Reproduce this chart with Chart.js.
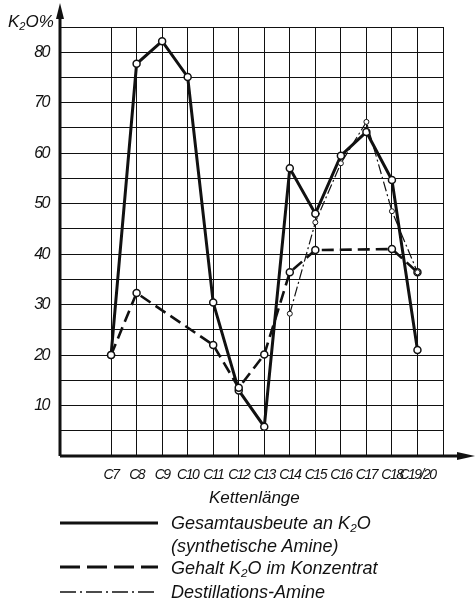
<!DOCTYPE html>
<html>
<head>
<meta charset="utf-8">
<script src="https://cdn.jsdelivr.net/npm/chart.js@4"></script>
<style>
  html, body { margin: 0; padding: 0; background: #fff; }
  #wrap { position: relative; width: 476px; height: 605px; }
  canvas { position: absolute; left: 0; top: 0; }
  .txt { position: absolute; font-family: "Liberation Sans", Arial, sans-serif; font-style: italic; color: #111; white-space: nowrap; line-height: 1; }
  .txt sub { font-size: 65%; vertical-align: -0.25em; }
  .key { position: absolute; left: 60px; width: 98px; height: 6px; }
</style>
</head>
<body>
<div id="wrap">
  <canvas id="chart" width="476" height="605"></canvas>
  <div class="txt" style="left:8px; top:13px; font-size:17px;">K<sub>2</sub>O%</div>
  <div class="txt" style="left:209px; top:489px; font-size:17px;">Kettenlänge</div>
  <svg class="key" style="top:520px;"><line x1="0" y1="3" x2="98" y2="3" stroke="#111" stroke-width="3"/></svg>
  <div class="txt" style="left:171px; top:514px; font-size:18px;">Gesamtausbeute an K<sub>2</sub>O</div>
  <div class="txt" style="left:171px; top:537px; font-size:18px;">(synthetische Amine)</div>
  <svg class="key" style="top:564px;"><line x1="0" y1="3" x2="98" y2="3" stroke="#111" stroke-width="3" stroke-dasharray="20,7"/></svg>
  <div class="txt" style="left:171px; top:559px; font-size:18px;">Gehalt K<sub>2</sub>O im Konzentrat</div>
  <svg class="key" style="top:589px;"><line x1="0" y1="3" x2="98" y2="3" stroke="#111" stroke-width="1.3" stroke-dasharray="16,4,2,4"/></svg>
  <div class="txt" style="left:171px; top:583px; font-size:18px;">Destillations-Amine</div>
</div>
<script>
const categories = ['C7', 'C8', 'C9', 'C10', 'C11', 'C12', 'C13', 'C14', 'C15', 'C16', 'C17', 'C18', 'C19/20'];
const gesamtausbeute = [20, 77.7, 82.2, 75.1, 30.4, 13, 5.8, 57, 48, 59.5, 64.2, 54.7, 21];
const gehaltKonzentrat = [20, 32.3, null, null, 22, 13.5, 20.1, 36.4, 40.8, null, null, 41, 36.4];
const destillation = [null, null, null, null, null, null, null, 28.2, 46.3, 58, 66.2, 48.5, 36.4];
const yTicks = [10, 20, 30, 40, 50, 60, 70, 80];

// two empty slots on the left (axis sits at the first), one on the right
const labels = ['', ''].concat(categories, ['']);
const pad = arr => [null, null].concat(arr, [null]);

const INK = '#111';

const axisArrows = {
  id: 'axisArrows',
  beforeDraw(chart) {
    chart.ctx.letterSpacing = '-1.5px'; // narrow lettering for the tick labels
  },
  afterDraw(chart) {
    const { ctx, chartArea: a } = chart;
    ctx.letterSpacing = '0px';
    ctx.save();
    ctx.strokeStyle = INK;
    ctx.fillStyle = INK;
    ctx.lineWidth = 3;
    ctx.beginPath();
    ctx.moveTo(a.left, a.bottom);
    ctx.lineTo(a.left, 14);
    ctx.moveTo(a.left, a.bottom);
    ctx.lineTo(462, a.bottom);
    ctx.stroke();
    ctx.beginPath();
    ctx.moveTo(a.left, 3);
    ctx.lineTo(a.left - 4, 19);
    ctx.lineTo(a.left + 4, 19);
    ctx.closePath();
    ctx.fill();
    ctx.beginPath();
    ctx.moveTo(475, a.bottom);
    ctx.lineTo(457, a.bottom - 4);
    ctx.lineTo(457, a.bottom + 4);
    ctx.closePath();
    ctx.fill();
    ctx.restore();
  },
};

new Chart(document.getElementById('chart'), {
  type: 'line',
  data: {
    labels,
    datasets: [
      {
        label: 'Destillations-Amine',
        data: pad(destillation),
        borderColor: INK,
        borderWidth: 1.2,
        borderDash: [10, 3, 2, 3],
        pointRadius: 2.5,
        pointBackgroundColor: '#fff',
        pointBorderColor: INK,
        pointBorderWidth: 1,
        spanGaps: false,
      },
      {
        label: 'Gehalt K2O im Konzentrat',
        data: pad(gehaltKonzentrat),
        borderColor: INK,
        borderWidth: 2.6,
        borderDash: [12, 6],
        pointRadius: 3.5,
        pointBackgroundColor: '#fff',
        pointBorderColor: INK,
        pointBorderWidth: 1.5,
        spanGaps: true,
      },
      {
        label: 'Gesamtausbeute an K2O (synthetische Amine)',
        data: pad(gesamtausbeute),
        borderColor: INK,
        borderWidth: 3,
        pointRadius: 3.5,
        pointBackgroundColor: '#fff',
        pointBorderColor: INK,
        pointBorderWidth: 1.5,
      },
    ],
  },
  options: {
    responsive: false,
    animation: false,
    layout: { padding: { top: 27, right: 33, bottom: 119, left: 0 } },
    plugins: { legend: { display: false }, tooltip: { enabled: false } },
    elements: { line: { tension: 0 } },
    scales: {
      x: {
        offset: false,
        border: { display: false },
        grid: {
          drawTicks: false,
          color: ctx => (ctx.index === 1 ? 'rgba(0,0,0,0)' : INK),
          lineWidth: 1,
        },
        ticks: {
          autoSkip: false,
          maxRotation: 0,
          padding: 11,
          color: INK,
          font: { family: "'Liberation Sans', sans-serif", size: 14, style: 'italic' },
        },
        afterFit(scale) { scale.height = 30; },
      },
      y: {
        min: 0,
        max: 85,
        border: { display: false },
        grid: { drawTicks: false, color: INK, lineWidth: 1 },
        ticks: {
          stepSize: 5,
          padding: 11,
          color: INK,
          font: { family: "'Liberation Sans', sans-serif", size: 16, style: 'italic' },
          callback: v => (yTicks.includes(v) ? String(v) : ''),
        },
        afterFit(scale) { scale.width = 60; },
      },
    },
  },
  plugins: [axisArrows],
});
</script>
</body>
</html>
